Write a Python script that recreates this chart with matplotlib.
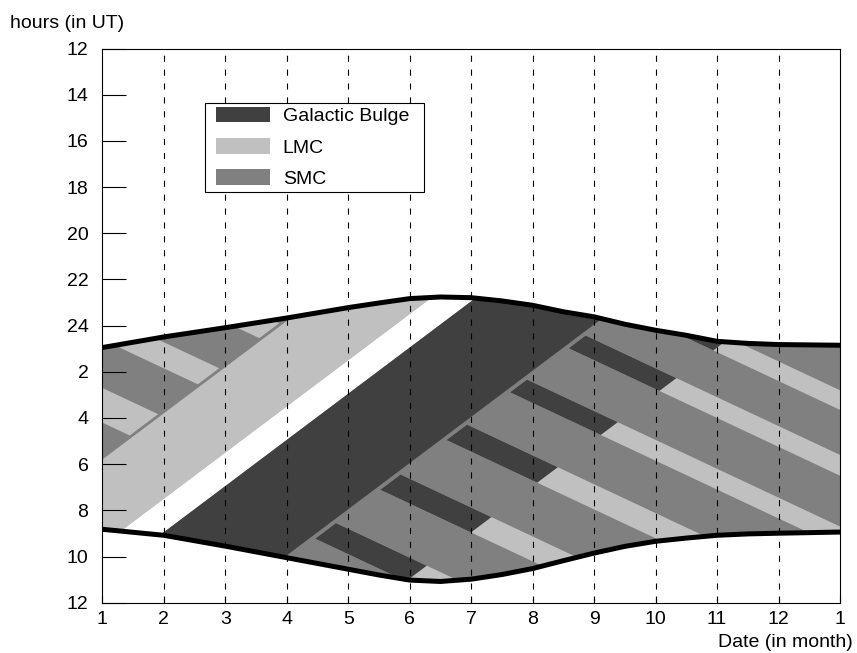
import matplotlib
matplotlib.use('Agg')
import matplotlib.pyplot as plt
from matplotlib.patches import Polygon, Patch
from matplotlib.legend_handler import HandlerPatch

plt.rcParams['font.family'] = ['Liberation Sans', 'DejaVu Sans']

# months on the x axis (13 = January of next year)
months = [1, 2, 3, 4, 5, 5.5, 6, 6.5, 7, 7.5, 8, 8.5, 9, 9.5, 10, 10.5, 11, 11.5, 12, 13]
# start / end of the night in hours UT (values > 24 are after midnight)
night_start = [24.95, 24.49, 24.09, 23.67, 23.22, 23.02, 22.83, 22.76, 22.79, 22.93,
               23.12, 23.40, 23.62, 23.94, 24.20, 24.42, 24.68, 24.77, 24.82, 24.85]
night_end = [32.82, 33.08, 33.55, 34.05, 34.55, 34.80, 35.02, 35.08, 34.98, 34.78,
             34.52, 34.18, 33.85, 33.56, 33.34, 33.20, 33.08, 33.02, 32.99, 32.94]

# target windows move by -2 h per month (sidereal drift), edges given as hour at month 1
sidereal_drift = 2.0
lmc_band = (29.8, 33.5)
empty_band = (33.5, 34.95)
bulge_band = (34.95, 39.95)
left_stripe_zone = (0.0, 29.65)
bulge_stripe_zone = (40.15, 44.95)
lmc_stripe_zone = (44.95, 120.0)

# alternating blocks drift by +1.25 h per month, edges given as hour at month 1
block_drift = 1.25
left_block_lo = [20.3, 23.47, 26.7]
left_block_hi = [21.35, 24.6, 28.2]
block_lo = [11.8, 14.6, 17.7, 20.87, 24.38, 27.8]
block_hi = [12.65, 15.5, 18.6, 21.96, 25.46, 28.9]

xlabels = ['1', '2', '3', '4', '5', '6', '7', '8', '9', '10', '11', '12', '1']
ylabels = ['12', '14', '16', '18', '20', '22', '24', '2', '4', '6', '8', '10', '12']

DARK = '#404040'
LIGHT = '#c0c0c0'
MID = '#808080'
FS = 14


def cell(u, v):
    # corners where the sidereal edges cross the block edges
    pts = []
    for uu, vv in [(u[0], v[0]), (u[1], v[0]), (u[1], v[1]), (u[0], v[1])]:
        t = (uu - vv) / (sidereal_drift + block_drift)
        pts.append((1 + t, vv + block_drift * t))
    return pts


fig = plt.figure(figsize=(8.57, 6.53), dpi=100)
ax = fig.add_axes([0.1194, 0.077, 0.8608, 0.8487])

# night region, also used as clip path
night = Polygon(list(zip(months, night_start)) + list(zip(months[::-1], night_end[::-1])),
                closed=True, facecolor=MID, edgecolor='none', zorder=1)
ax.add_patch(night)

no_limit = (-60, 100)


def add_cell(u, v, color):
    p = Polygon(cell(u, v), closed=True, facecolor=color, edgecolor='none', zorder=1)
    ax.add_patch(p)
    p.set_clip_path(night)


add_cell(lmc_band, no_limit, LIGHT)
add_cell(empty_band, no_limit, 'white')
add_cell(bulge_band, no_limit, DARK)

for lo, hi in zip(left_block_lo, left_block_hi):
    add_cell(left_stripe_zone, (lo, hi), LIGHT)

for lo, hi in zip(block_lo, block_hi):
    add_cell((bulge_stripe_zone[0], lmc_stripe_zone[1]), (lo, hi), LIGHT)
    add_cell(bulge_stripe_zone, (lo, hi), DARK)

for m in range(2, 13):
    ax.axvline(m, color='k', lw=0.8, dashes=(5.5, 7), zorder=2)

ax.plot(months, night_start, color='k', lw=3.6, zorder=3)
ax.plot(months, night_end, color='k', lw=3.6, zorder=3)

ax.set_xlim(1, 13)
ax.set_ylim(36, 12)
ax.set_xticks(range(1, 14))
ax.set_xticklabels(xlabels)
ax.set_yticks(range(12, 37, 2))
ax.set_yticklabels(ylabels)
ax.set_axisbelow(False)
ax.tick_params(axis='y', direction='in', length=17, width=0.8, pad=10, labelsize=FS)
ax.tick_params(axis='x', direction='in', length=5, width=0.8, pad=6, labelsize=FS)
for s in ax.spines.values():
    s.set_linewidth(0.8)

handles = [Patch(facecolor=DARK, label='Galactic Bulge'),
           Patch(facecolor=LIGHT, label='LMC'),
           Patch(facecolor=MID, label='SMC')]
leg = ax.legend(handles=handles, loc='upper left', mode='expand',
                bbox_to_anchor=(0.1392, 0.5, 0.2969, 0.4022),
                handler_map={Patch: HandlerPatch(xpad=0.37)},
                fontsize=FS, handlelength=3.15, handleheight=0.88, labelspacing=0.65,
                handletextpad=0.65, borderpad=0.2, fancybox=False, framealpha=1,
                edgecolor='k', borderaxespad=0)
leg.get_frame().set_linewidth(0.8)
leg.set_zorder(5)

fig.text(10 / 857, 1 - 28 / 653, 'hours (in UT)', fontsize=FS, va='baseline')
fig.text(853 / 857, 1 - 647 / 653, 'Date (in month)', fontsize=FS, ha='right', va='baseline')

fig.savefig('out.png', dpi=100)
